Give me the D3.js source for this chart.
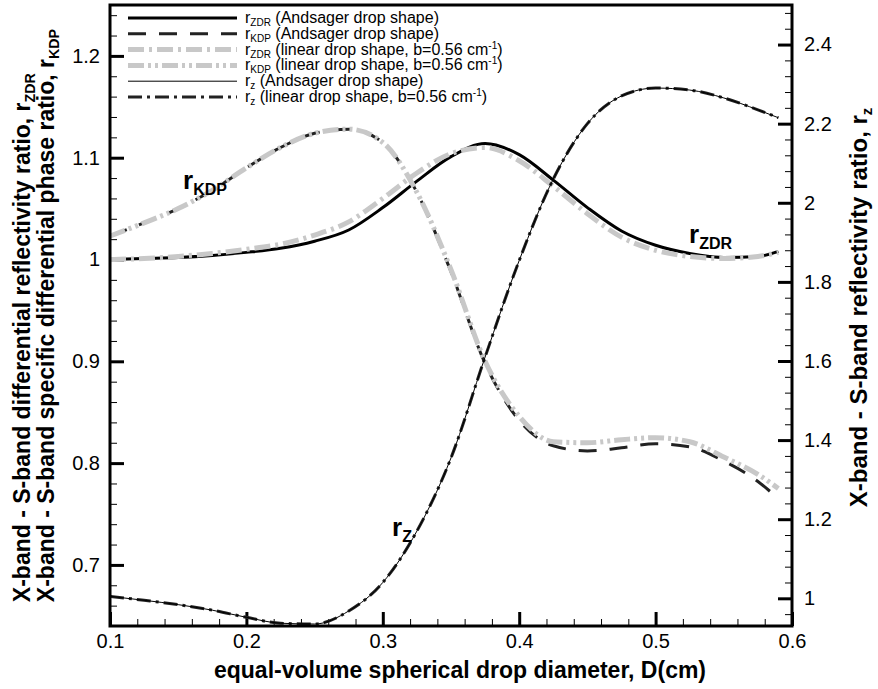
<!DOCTYPE html>
<html>
<head>
<meta charset="utf-8">
<script src="https://cdn.jsdelivr.net/npm/d3@7"></script>
<style>
    body { margin: 0; background: #fff; }
    svg { font-family: "Liberation Sans", Arial, Helvetica, sans-serif; }
</style>
</head>
<body>
<div class="chart"></div>
<script>
// drop diameter D (cm)
var diameters = [0.1, 0.125, 0.15, 0.175, 0.2, 0.225, 0.25, 0.275, 0.3, 0.325, 0.35,
                 0.375, 0.4, 0.425, 0.45, 0.475, 0.5, 0.525, 0.55, 0.575, 0.59];

// left axis series
var zdrAndsager = [1.000, 1.001, 1.002, 1.004, 1.007, 1.011, 1.018, 1.029, 1.051, 1.077, 1.101,
                   1.114, 1.103, 1.078, 1.051, 1.028, 1.014, 1.006, 1.002, 1.003, 1.008];
var kdpAndsager = [1.023, 1.036, 1.050, 1.068, 1.090, 1.110, 1.124, 1.128, 1.115, 1.066, 0.988,
                   0.898, 0.842, 0.817, 0.812, 0.815, 0.819, 0.816, 0.802, 0.782, 0.765];
var zdrLinear   = [1.000, 1.001, 1.003, 1.006, 1.010, 1.015, 1.024, 1.037, 1.060, 1.085, 1.104,
                   1.110, 1.097, 1.072, 1.045, 1.022, 1.009, 1.003, 1.001, 1.003, 1.007];
var kdpLinear   = [1.023, 1.036, 1.050, 1.068, 1.090, 1.110, 1.124, 1.128, 1.115, 1.066, 0.990,
                   0.900, 0.846, 0.821, 0.820, 0.823, 0.825, 0.821, 0.806, 0.789, 0.775];

// right axis series
var zAndsager = [1.005, 0.995, 0.984, 0.970, 0.952, 0.937, 0.935, 0.968, 1.040, 1.170, 1.355,
                 1.610, 1.854, 2.060, 2.200, 2.270, 2.290, 2.285, 2.265, 2.235, 2.215];
var zLinear   = [1.005, 0.995, 0.984, 0.970, 0.952, 0.937, 0.935, 0.968, 1.040, 1.170, 1.355,
                 1.610, 1.854, 2.060, 2.200, 2.270, 2.290, 2.285, 2.265, 2.235, 2.215];

var xTicks = [0.1, 0.2, 0.3, 0.4, 0.5, 0.6];
var leftTicks = [0.7, 0.8, 0.9, 1, 1.1, 1.2];
var rightTicks = [1, 1.2, 1.4, 1.6, 1.8, 2, 2.2, 2.4];

var width = 878, height = 689;
var margin = {left: 110, right: 86, top: 5, bottom: 63};
var plotW = width - margin.left - margin.right;
var plotH = height - margin.top - margin.bottom;
var midY = margin.top + plotH / 2;

var svg = d3.select('.chart').append('svg')
    .attr('width', width)
    .attr('height', height);

var x = d3.scaleLinear().domain([0.1, 0.6]).range([0, plotW]);
var yLeft = d3.scaleLinear().domain([0.64, 1.25]).range([plotH, 0]);
var yRight = d3.scaleLinear().domain([0.93, 2.5]).range([plotH, 0]);

var g = svg.append('g').attr('transform', 'translate(' + margin.left + ',' + margin.top + ')');

// minor ticks
g.append('g').attr('class', 'minor')
    .call(d3.axisLeft(yLeft).tickValues(d3.range(0.64, 1.25, 0.02)).tickSize(-7).tickFormat(''));
g.append('g').attr('class', 'minor')
    .attr('transform', 'translate(' + plotW + ',0)')
    .call(d3.axisRight(yRight).tickValues(d3.range(0.96, 2.5, 0.04)).tickSize(-7).tickFormat(''));
g.append('g').attr('class', 'minor')
    .attr('transform', 'translate(0,' + plotH + ')')
    .call(d3.axisBottom(x).tickValues(d3.range(0.1, 0.6001, 0.02)).tickSize(-7).tickFormat(''));

// major ticks
g.append('g').attr('class', 'major')
    .call(d3.axisLeft(yLeft).tickValues(leftTicks).tickSize(-14).tickPadding(10).tickFormat(d3.format('')));
g.append('g').attr('class', 'major')
    .attr('transform', 'translate(' + plotW + ',0)')
    .call(d3.axisRight(yRight).tickValues(rightTicks).tickSize(-14).tickPadding(12).tickFormat(d3.format('')));
g.append('g').attr('class', 'major')
    .attr('transform', 'translate(0,' + plotH + ')')
    .call(d3.axisBottom(x).tickValues(xTicks).tickSize(-14).tickPadding(8).tickFormat(d3.format('.1f')));

g.selectAll('.minor path, .major path').remove();
g.selectAll('.minor line').attr('stroke', '#000').attr('stroke-width', 1);
g.selectAll('.major line').attr('stroke', '#000').attr('stroke-width', 3);
g.selectAll('.major text').attr('font-size', 20).attr('fill', '#000')
    .attr('font-family', '"Liberation Sans", Arial, sans-serif');

// curves
var lineLeft = function(vals) {
    return d3.line().curve(d3.curveMonotoneX)
        .x(function(d, i) { return x(diameters[i]); })
        .y(function(d) { return yLeft(d); })(vals);
};
var lineRight = function(vals) {
    return d3.line().curve(d3.curveMonotoneX)
        .x(function(d, i) { return x(diameters[i]); })
        .y(function(d) { return yRight(d); })(vals);
};

// black curves under the wide grey ones
var series = [
    {d: lineLeft(zdrAndsager), color: '#000', w: 3, dash: null},
    {d: lineLeft(kdpAndsager), color: '#222', w: 3, dash: '18,13'},
    {d: lineLeft(zdrLinear), color: '#c8c8c8', w: 5, dash: '16,5,3,5'},
    {d: lineLeft(kdpLinear), color: '#c8c8c8', w: 5, dash: '16,4,3,4,3,4'},
    {d: lineRight(zLinear), color: '#222', w: 3, dash: '14,5,3,5'},
    {d: lineRight(zAndsager), color: '#000', w: 1, dash: null}
];

g.selectAll('.curve').data(series).enter().append('path')
    .attr('class', 'curve')
    .attr('d', function(s) { return s.d; })
    .attr('fill', 'none')
    .attr('stroke', function(s) { return s.color; })
    .attr('stroke-width', function(s) { return s.w; })
    .attr('stroke-dasharray', function(s) { return s.dash; });

// frame
g.append('rect')
    .attr('width', plotW).attr('height', plotH)
    .attr('fill', 'none').attr('stroke', '#000').attr('stroke-width', 3);

// legend
var legend = [
    {sub: 'ZDR', text: ' (Andsager drop shape)', color: '#000', w: 3, dash: null},
    {sub: 'KDP', text: ' (Andsager drop shape)', color: '#222', w: 3, dash: '18,13'},
    {sub: 'ZDR', text: ' (linear drop shape, b=0.56 cm', sup: true, color: '#c8c8c8', w: 5, dash: '16,5,3,5'},
    {sub: 'KDP', text: ' (linear drop shape, b=0.56 cm', sup: true, color: '#c8c8c8', w: 5, dash: '16,4,3,4,3,4'},
    {sub: 'z', text: ' (Andsager drop shape)', color: '#000', w: 1, dash: null},
    {sub: 'z', text: ' (linear drop shape, b=0.56 cm', sup: true, color: '#222', w: 3, dash: '14,5,3,5'}
];

var leg = svg.append('g').attr('class', 'legend');
legend.forEach(function(item, i) {
    var yy = 18 + i * 15.8;
    leg.append('line')
        .attr('x1', 128).attr('x2', 237).attr('y1', yy).attr('y2', yy)
        .attr('stroke', item.color).attr('stroke-width', item.w)
        .attr('stroke-dasharray', item.dash);
    var t = leg.append('text').attr('x', 245).attr('y', yy + 5).attr('font-size', 16);
    t.append('tspan').text('r');
    t.append('tspan').attr('font-size', 10).attr('dy', 3).text(item.sub);
    t.append('tspan').attr('dy', -3).text(item.text);
    if (item.sup) {
        t.append('tspan').attr('font-size', 10).attr('dy', -6).text('-1');
        t.append('tspan').attr('dy', 6).text(')');
    }
});

// curve annotations
var note = function(px, py, sub) {
    var t = svg.append('text').attr('x', px).attr('y', py)
        .attr('font-size', 26).attr('font-weight', 'bold');
    t.append('tspan').text('r');
    t.append('tspan').attr('font-size', 16).attr('dy', 6).text(sub);
};
note(183, 189, 'KDP');
note(689, 243, 'ZDR');
note(392, 536, 'Z');

// axis titles
svg.append('text')
    .attr('x', 460).attr('y', 678)
    .attr('text-anchor', 'middle')
    .attr('font-size', 23).attr('font-weight', 'bold')
    .text('equal-volume spherical drop diameter, D(cm)');

var title = function(px, py, main, sub, size, anchor) {
    var t = svg.append('text')
        .attr('transform', 'translate(' + px + ',' + py + ') rotate(-90)')
        .attr('text-anchor', anchor)
        .attr('font-size', size).attr('font-weight', 'bold');
    t.append('tspan').text(main);
    t.append('tspan').attr('font-size', size * 0.62).attr('dy', 5).text(sub);
    return t;
};
// two-line left title: lines share their start, block centred on the plot
var t1 = title(30, 0, 'X-band - S-band differential reflectivity ratio, r', 'ZDR', 23, 'start');
var t2 = title(54, 0, 'X-band - S-band specific differential phase ratio, r', 'KDP', 23, 'start');
var blockLen = t2.node().getComputedTextLength();
var startY = midY + blockLen / 2;
t1.attr('transform', 'translate(30,' + startY + ') rotate(-90)');
t2.attr('transform', 'translate(54,' + startY + ') rotate(-90)');

title(867, midY - 8, 'X-band - S-band reflectivity ratio, r', 'z', 24, 'middle');
</script>
</body>
</html>
